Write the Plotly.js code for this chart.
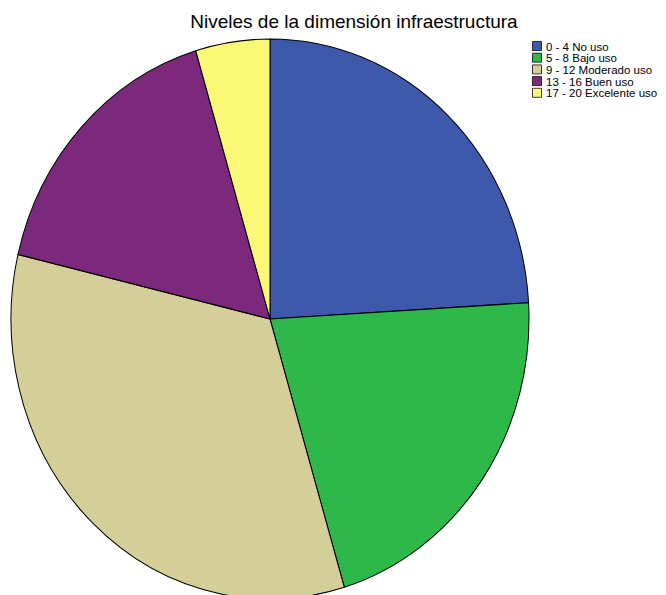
<!DOCTYPE html>
<html>
<head>
<meta charset="utf-8">
<script src="https://cdn.plot.ly/plotly-3.0.1.min.js"></script>
<style>
html,body{margin:0;padding:0;background:#fff;}
#chart{width:666px;height:595px;}
</style>
</head>
<body>
<div id="chart"></div>
<script>
var categories = ["0 - 4 No uso", "5 - 8 Bajo uso", "9 - 12 Moderado uso", "13 - 16 Buen uso", "17 - 20 Excelente uso"];
var counts = [26, 23, 36, 18, 5];
var colors = ["#3E58AC", "#2EB84A", "#D4CF98", "#7B287D", "#FBF878"];
var chartTitle = "Niveles de la dimensión infraestructura";

var W = 666, H = 595;
var cx = 270, cyTop = 319, r = 259;

var trace = {
  type: "pie",
  labels: categories,
  values: counts,
  sort: false,
  direction: "clockwise",
  rotation: 0,
  textinfo: "none",
  hoverinfo: "skip",
  marker: {colors: colors, line: {color: "#000000", width: 1}},
  domain: {
    x: [0, 1],
    y: [0, 1]
  }
};

var layout = {
  width: W, height: H,
  margin: {l: 0, r: 0, t: 0, b: 0, autoexpand: false},
  paper_bgcolor: "#ffffff",
  font: {family: "Liberation Sans, Arial, sans-serif", color: "#000000"},
  title: {
    text: chartTitle,
    font: {size: 19, color: "#000000", family: "Liberation Sans, Arial, sans-serif"},
    x: 354 / W, xanchor: "center",
    y: 1 - 21 / H, yanchor: "middle"
  },
  showlegend: true,
  legend: {
    x: 506 / W, xanchor: "left",
    y: 1 - 38 / H, yanchor: "top",
    bgcolor: "rgba(0,0,0,0)",
    font: {size: 11.5, color: "#000000", family: "Liberation Sans, Arial, sans-serif"},
    traceorder: "normal"
  }
};

function frac(a, b) { return [a, b]; }

Plotly.newPlot("chart", [trace], layout, {displayModeBar: false, staticPlot: true}).then(function (gd) {
  var gs = gd._fullLayout._size;
  // place the pie domain in plot-area fractions
  var dx0 = (cx - r - gs.l) / gs.w, dx1 = (cx + r - gs.l) / gs.w;
  var cyB = H - cyTop;
  var dy0 = (cyB - r - gs.b) / gs.h, dy1 = (cyB + r - gs.b) / gs.h;
  return Plotly.restyle(gd, {"domain.x": [frac(dx0, dx1)], "domain.y": [frac(dy0, dy1)]});
}).then(function () {
  var gd = document.getElementById("chart");
  // stretch pie vertically to match the slightly elliptical original
  var k = 280 / r;
  var pl = gd.querySelector(".pielayer");
  if (pl) {
    pl.setAttribute("transform", "translate(0," + cyTop + ") scale(1," + k + ") translate(0," + (-cyTop) + ")");
  }
  // compact legend rows
  var items = gd.querySelectorAll(".legend .traces");
  items.forEach(function (el, i) {
    el.setAttribute("transform", "translate(0," + (8 + i * 11.7) + ")");
    var sym = el.querySelector(".legendpoints");
    if (sym) sym.setAttribute("transform", "translate(16,0) scale(0.75)");
  });
});
</script>
</body>
</html>
